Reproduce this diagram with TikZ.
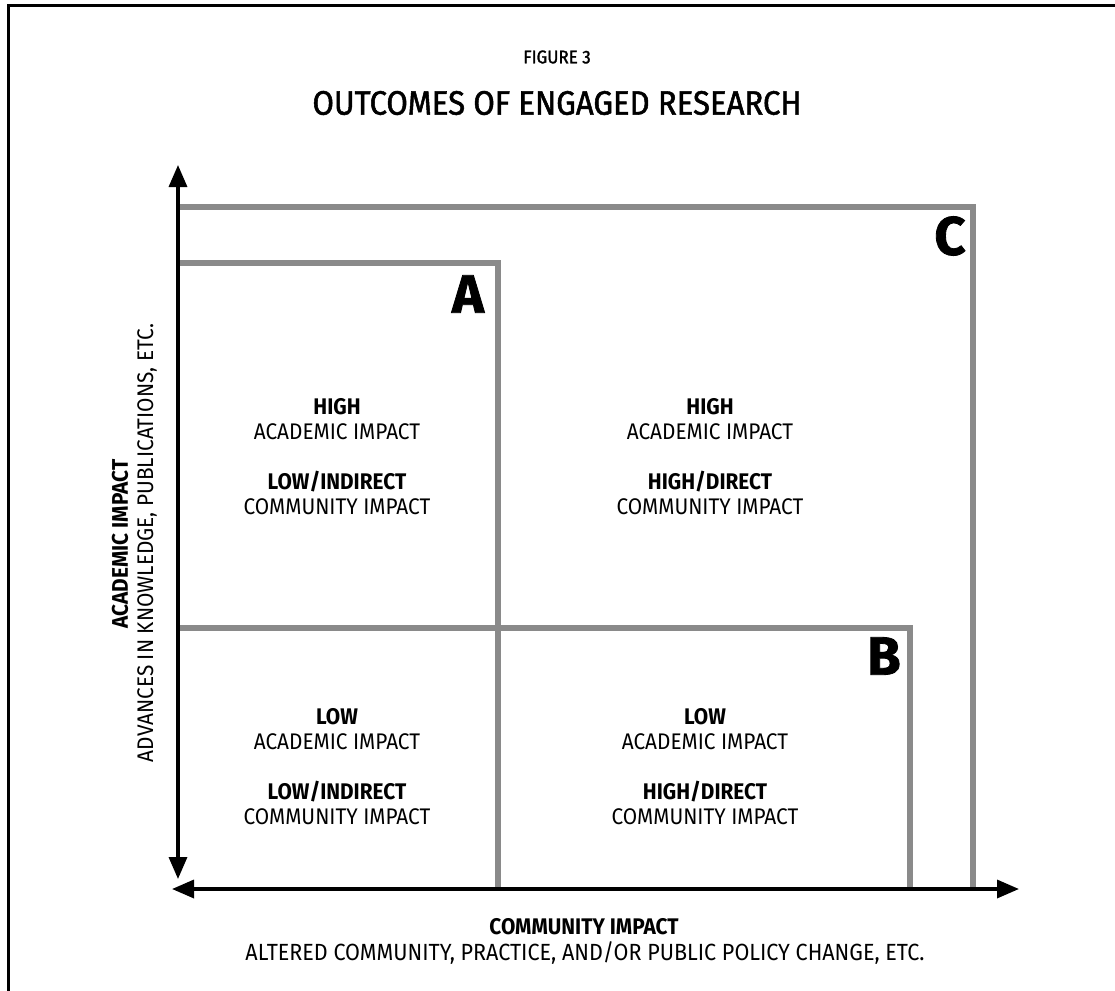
\documentclass[tikz,border=0pt]{standalone}
\usepackage{fontspec}
\setmainfont{Fira Sans}[FakeStretch=0.92]
\newfontfamily\medfont{Fira Sans}[FakeStretch=0.92,FakeBold=1.5]
\newfontfamily\heavyfont{Fira Sans}[BoldFeatures={FakeBold=1.5}]
\usetikzlibrary{arrows.meta}
\definecolor{zonegray}{RGB}{138,138,138}
\begin{document}
\begin{tikzpicture}[x=0.5pt,y=-0.5pt,
  frame/.style={line width=1.5pt,draw=black},
  axis/.style={line width=1.7pt,draw=black,{Triangle[length=11pt,width=9pt]}-{Triangle[length=11pt,width=9pt]}},
  zone/.style={line width=2.8pt,draw=zonegray,line join=miter},
  celltxt/.style={align=center,inner sep=0pt,font=\fontsize{11.3}{12.5}\selectfont},
  zoneletter/.style={inner sep=0pt,font=\fontsize{27}{27}\heavyfont\bfseries},
  axislabel/.style={inner sep=0pt,align=center,font=\fontsize{11.3}{12.5}\selectfont},
]
\useasboundingbox (0,0) rectangle (1115,991);
% frame (top and left only)
\coordinate (fbl) at (8,991);
\coordinate (ftl) at (8,5);
\coordinate (ftr) at (1115,5);
\draw[frame] (fbl) -- (ftl) -- (ftr);

% titles
\node[inner sep=0pt,font=\fontsize{9.2}{10}\medfont] (fig) at (557,57) {FIGURE 3};
\node[inner sep=0pt,font=\fontsize{16.9}{18}\medfont] (title) at (557,103) {OUTCOMES OF ENGAGED RESEARCH};

% zone coordinates
\coordinate (cL) at (178,207);
\coordinate (cR) at (973,207);
\coordinate (cB) at (973,889);
\coordinate (aL) at (178,263);
\coordinate (aR) at (498,263);
\coordinate (aB) at (498,889);
\coordinate (mL) at (178,628);
\coordinate (bR) at (910,628);
\coordinate (bB) at (910,889);

\draw[zone] (cL) -- (cR) -- (cB);
\draw[zone] (aL) -- (aR) -- (aB);
\draw[zone] (mL) -- (bR) -- (bB);

% axes
\coordinate (yTop) at (178,165);
\coordinate (yBot) at (178,879);
\coordinate (xLeft) at (172,889);
\coordinate (xRight) at (1019,889);
\draw[axis] (yBot) -- (yTop);
\draw[axis] (xLeft) -- (xRight);

% zone letters
\node[zoneletter] (A) at (468,294) {A};
\node[zoneletter] (B) at (884,656) {B};
\node[zoneletter] (C) at (950,236) {C};

% cell texts
\node[celltxt,anchor=north] (tl) at (337,398) {\textbf{HIGH}\\ACADEMIC IMPACT\\[12.5pt]\textbf{LOW/INDIRECT}\\COMMUNITY IMPACT};
\node[celltxt,anchor=north] (tr) at (710,398) {\textbf{HIGH}\\ACADEMIC IMPACT\\[12.5pt]\textbf{HIGH/DIRECT}\\COMMUNITY IMPACT};
\node[celltxt,anchor=north] (bl) at (337,708) {\textbf{LOW}\\ACADEMIC IMPACT\\[12.5pt]\textbf{LOW/INDIRECT}\\COMMUNITY IMPACT};
\node[celltxt,anchor=north] (br) at (705,708) {\textbf{LOW}\\ACADEMIC IMPACT\\[12.5pt]\textbf{HIGH/DIRECT}\\COMMUNITY IMPACT};

% axis labels
\node[axislabel,rotate=90] (yl1) at (120,544) {\textbf{ACADEMIC IMPACT}};
\node[axislabel,rotate=90] (yl2) at (147,543) {ADVANCES IN KNOWLEDGE, PUBLICATIONS, ETC.};
\node[axislabel] (xl1) at (584,927) {\textbf{COMMUNITY IMPACT}};
\node[axislabel,font=\fontsize{11.7}{13}\selectfont] (xl2) at (585,953) {ALTERED COMMUNITY, PRACTICE, AND/OR PUBLIC POLICY CHANGE, ETC.};
\end{tikzpicture}
\end{document}
